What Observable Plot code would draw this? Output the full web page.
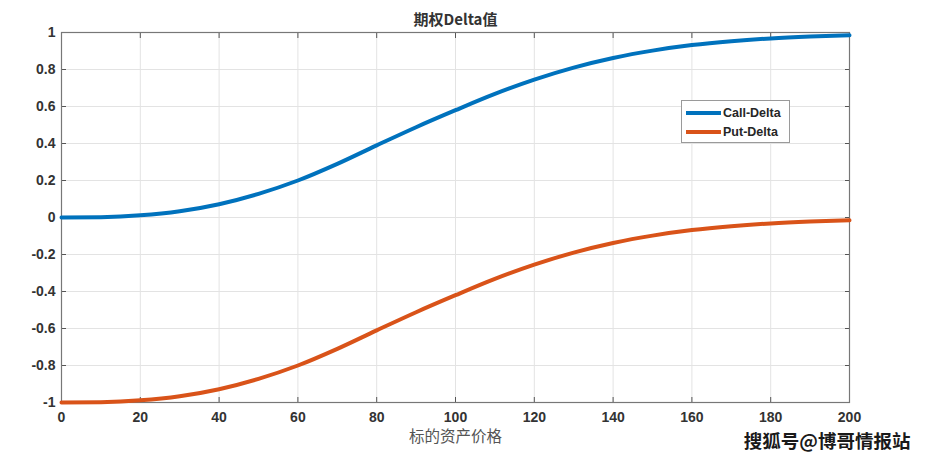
<!DOCTYPE html>
<html>
<head>
<meta charset="utf-8">
<script src="https://cdn.jsdelivr.net/npm/d3@7"></script>
<script src="https://cdn.jsdelivr.net/npm/@observablehq/plot@0.6"></script>
<style>
  html, body { margin: 0; padding: 0; background: #fff; }
  #wrap { position: relative; width: 930px; height: 461px; }
  #legend {
    position: absolute; left: 681px; top: 100px; width: 107px; height: 41px;
    border: 1px solid #9a9a9a; background: #fff; box-sizing: content-box;
    font-family: "Liberation Sans", Arial, sans-serif; font-weight: bold; font-size: 12.5px; color: #262626;
  }
  .row { position: absolute; left: 4px; display: flex; align-items: center; height: 18px; }
  .sw { width: 35px; height: 4px; margin-right: 2px; }
</style>
</head>
<body>
<div id="wrap"></div>
<script>
// Data
const prices = [0, 10, 20, 30, 40, 50, 60, 70, 80, 90, 100, 110, 120, 130, 140, 150, 160, 170, 180, 190, 200];
const callDelta = [0.0, 0.002, 0.012, 0.034, 0.072, 0.128, 0.2, 0.29, 0.39, 0.488, 0.58, 0.668, 0.745, 0.81, 0.862, 0.902, 0.932, 0.953, 0.968, 0.978, 0.985];
const putDelta = [-1.0, -0.998, -0.988, -0.966, -0.928, -0.872, -0.8, -0.71, -0.61, -0.512, -0.42, -0.332, -0.255, -0.19, -0.138, -0.098, -0.068, -0.047, -0.032, -0.022, -0.015];
const xTicks = [0, 20, 40, 60, 80, 100, 120, 140, 160, 180, 200];
const yTicks = [-1, -0.8, -0.6, -0.4, -0.2, 0, 0.2, 0.4, 0.6, 0.8, 1];
const seriesNames = ["Call-Delta", "Put-Delta"];
const seriesColors = ["#0072BD", "#D95319"];
const titleText = "期权Delta值";
const xLabelText = "标的资产价格";
const watermarkText = "搜狐号@博哥情报站";

const rows = [];
prices.forEach((p, i) => {
  rows.push({price: p, delta: callDelta[i], series: seriesNames[0]});
  rows.push({price: p, delta: putDelta[i], series: seriesNames[1]});
});

const fmt = d => String(d);
const noLabel = () => "";
const axisColor = "#555";

const chart = Plot.plot({
  width: 930,
  height: 461,
  marginLeft: 61,
  marginRight: 81,
  marginTop: 32,
  marginBottom: 59,
  style: {fontFamily: "'Liberation Sans', Arial, sans-serif", fontSize: "14px", fontWeight: "bold", color: "#333", background: "#fff"},
  x: {domain: [0, 200], ticks: xTicks},
  y: {domain: [-1, 1], ticks: yTicks},
  color: {domain: seriesNames, range: seriesColors},
  marks: [
    Plot.gridX(xTicks, {stroke: "#e3e3e3", strokeOpacity: 1}),
    Plot.gridY(yTicks, {stroke: "#e3e3e3", strokeOpacity: 1}),
    Plot.axisX(xTicks, {anchor: "bottom", tickSize: -5, tickPadding: 15, tickFormat: fmt, label: null, stroke: axisColor, fill: "#333", fontWeight: "bold", fontSize: 14}),
    Plot.axisX(xTicks, {anchor: "top", tickSize: -5, tickFormat: noLabel, label: null, stroke: axisColor}),
    Plot.axisY(yTicks, {anchor: "left", tickSize: -5, tickPadding: 11, tickFormat: fmt, label: null, stroke: axisColor, fill: "#333", fontWeight: "bold", fontSize: 14}),
    Plot.axisY(yTicks, {anchor: "right", tickSize: -5, tickFormat: noLabel, label: null, stroke: axisColor}),
    Plot.frame({stroke: "#777", strokeWidth: 1.2}),
    Plot.line(rows, {x: "price", y: "delta", stroke: "series", z: "series", strokeWidth: 4, curve: "monotone-x"}),
    Plot.text([titleText], {frameAnchor: "top", dy: -18, text: d => d, fontSize: 15, fontWeight: "bold", fill: "#333", fontFamily: "'Noto Sans CJK SC', 'Liberation Sans', sans-serif"}),
    Plot.text([xLabelText], {frameAnchor: "bottom", lineAnchor: "middle", dy: 35, text: d => d, fontSize: 15.5, fontWeight: "normal", fill: "#555", fontFamily: "'Noto Sans CJK SC', sans-serif"}),
    Plot.text([watermarkText], {frameAnchor: "bottom-right", lineAnchor: "middle", dx: 61, dy: 40, textAnchor: "end", text: d => d, fontSize: 18.5, fontWeight: "bold", fill: "#1a1a1a", stroke: "#fff", strokeWidth: 1.5, paintOrder: "stroke", fontFamily: "'Noto Sans CJK SC', sans-serif"})
  ]
});

const wrap = document.getElementById("wrap");
wrap.appendChild(chart);

const legend = document.createElement("div");
legend.id = "legend";
seriesNames.forEach((name, i) => {
  const row = document.createElement("div");
  row.className = "row";
  row.style.top = (3 + i * 19) + "px";
  const sw = document.createElement("div");
  sw.className = "sw";
  sw.style.background = seriesColors[i];
  const label = document.createElement("span");
  label.textContent = name;
  row.appendChild(sw);
  row.appendChild(label);
  legend.appendChild(row);
});
wrap.appendChild(legend);
</script>
</body>
</html>
